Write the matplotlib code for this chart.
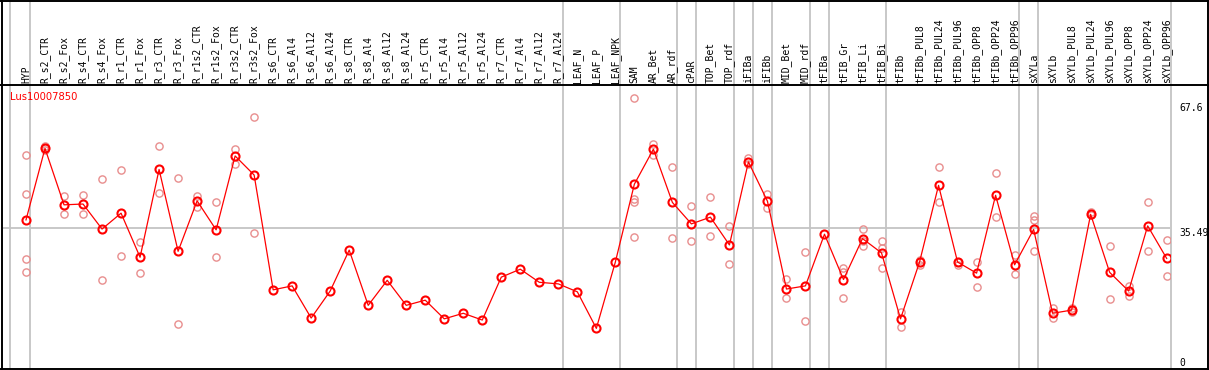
import matplotlib
matplotlib.use("Agg")
import matplotlib.pyplot as plt
from matplotlib.lines import Line2D

categories = ["HYP", "R_s2_CTR", "R_s2_Fox", "R_s4_CTR", "R_s4_Fox", "R_r1_CTR", "R_r1_Fox",
              "R_r3_CTR", "R_r3_Fox", "R_r1s2_CTR", "R_r1s2_Fox", "R_r3s2_CTR", "R_r3s2_Fox",
              "R_s6_CTR", "R_s6_Al4", "R_s6_Al12", "R_s6_Al24", "R_s8_CTR", "R_s8_Al4", "R_s8_Al12",
              "R_s8_Al24", "R_r5_CTR", "R_r5_Al4", "R_r5_Al12", "R_r5_Al24", "R_r7_CTR", "R_r7_Al4",
              "R_r7_Al12", "R_r7_Al24", "LEAF_N", "LEAF_P", "LEAF_NPK", "SAM", "AR_Bet", "AR_rdf",
              "cPAR", "TOP_Bet", "TOP_rdf", "iFIBa", "iFIBb", "MID_Bet", "MID_rdf", "tFIBa",
              "tFIB_Gr", "tFIB_Li", "tFIB_Bi", "tFIBb", "tFIBb_PUL8", "tFIBb_PUL24", "tFIBb_PUL96",
              "tFIBb_OPP8", "tFIBb_OPP24", "tFIBb_OPP96", "sXYLa", "sXYLb", "sXYLb_PUL8",
              "sXYLb_PUL24", "sXYLb_PUL96", "sXYLb_OPP8", "sXYLb_OPP24", "sXYLb_OPP96"]

means = [37.6, 55.6, 41.4, 41.6, 35.3, 39.3, 28.2, 50.3, 29.7, 42.4, 35.1, 53.7, 48.9,
         20.0, 21.0, 12.9, 19.7, 30.0, 16.1, 22.4, 16.1, 17.4, 12.7, 14.1, 12.4, 23.2, 25.2,
         21.9, 21.5, 19.5, 10.3, 27.0, 46.6, 55.4, 42.0, 36.6, 38.3, 31.3, 52.2, 42.3, 20.2,
         21.0, 34.0, 22.6, 32.9, 29.3, 12.7, 27.0, 46.3, 27.0, 24.2, 43.8, 26.3, 35.2, 14.1,
         14.9, 39.0, 24.4, 19.7, 36.1, 27.9]

replicates = [
    [53.9, 44.0, 27.7, 24.4], [56.3, 55.6, 55.2], [43.5, 39.0], [43.9, 39.0], [47.9, 22.6],
    [50.2, 28.5], [32.0, 24.2], [56.2, 44.5], [48.2, 11.3], [43.7, 40.9], [42.0, 28.3],
    [55.4, 51.8], [63.5, 34.3],
    [], [], [], [], [], [], [], [], [], [], [], [], [], [], [], [], [], [], [],
    [68.2, 42.9, 42.2, 33.2], [56.7, 53.9], [50.8, 33.0], [41.1, 32.2], [43.4, 33.6],
    [36.1, 26.5], [53.3, 51.7], [44.1, 40.6], [22.7, 17.9], [29.4, 12.2], [],
    [25.6, 17.9, 24.6], [35.3, 31.1, 32.3], [32.2, 30.5, 25.4], [14.3, 10.7], [27.5, 26.2],
    [50.8, 42.0], [26.9, 26.3], [27.1, 20.8], [49.3, 38.3], [28.8, 24.0],
    [38.7, 37.6, 29.7], [15.4, 12.8], [15.5, 14.3], [39.7, 38.8], [31.0, 17.7],
    [21.0, 18.5], [42.1, 29.7], [32.5, 23.4],
]

group_sizes = [1, 28, 3, 3, 1, 2, 1, 1, 2, 1, 3, 7, 1, 7]

title = "Lus10007850"
axis_labels = ["67.6", "35.49", "0"]
ref_value = 35.49

W, H = 1209, 370
fig = plt.figure(figsize=(W / 100, H / 100), dpi=100)

def fx(px):
    return px / W

def fy(py):
    return (H - py) / H

ax_left, ax_right, ax_top, ax_bot = 1.7, 1170.3, 85.0, 369.3
ax = fig.add_axes([fx(ax_left), fy(ax_bot), fx(ax_right - ax_left), (ax_bot - ax_top) / H])
ax.set_xlim(-1.278, 60.19)
ax.set_ylim(0, 71.56)
ax.set_xticks([])
ax.set_yticks([])
for s in ["left", "top", "bottom", "right"]:
    ax.spines[s].set_visible(False)

x = list(range(len(categories)))
gray = "#c4c4c4"
ax_h_px = ax_bot - ax_top
top_ext = (ax_bot) / ax_h_px  # extend to figure top

# group separators
b = 0
seps = [-0.84]
for g in group_sizes:
    b += g
    seps.append(b - 0.77)
for s in seps:
    ax.axvline(s, ymin=0, ymax=top_ext, color=gray, lw=1.3, clip_on=False, zorder=1)

ax.axhline(ref_value, xmin=0, xmax=1, color=gray, lw=1.3, zorder=1)

# replicate points
rx, ry = [], []
for i, reps in enumerate(replicates):
    for v in reps:
        rx.append(i)
        ry.append(v)
ax.plot(rx, ry, linestyle="none", marker="o", markersize=5.2, markerfacecolor="none",
        markeredgecolor="#e88e8e", markeredgewidth=1.0, zorder=3)

# mean line
ax.plot(x, means, color="#ff0000", lw=0.9, marker="o", markersize=5.8, markerfacecolor="none",
        markeredgecolor="#ff0000", markeredgewidth=1.5, zorder=4)

# column labels
hdr_tr = ax.get_xaxis_transform()
for i, c in enumerate(categories):
    ax.text(i, 1 + 2.0 / ax_h_px, c, rotation=90, ha="center", va="bottom",
            fontsize=7, family="DejaVu Sans Mono", color="black", transform=hdr_tr,
            clip_on=False)

# title
fig.text(fx(10), fy(97), title, color="#ff0000", fontsize=7.2, family="DejaVu Sans",
         ha="left", va="center")

# right labels
for lab, top_px in zip(axis_labels, [103, 228, 358]):
    fig.text(fx(1179), fy(top_px), lab, fontsize=7, family="DejaVu Sans Mono",
             ha="left", va="top", color="black")

# black frame lines
lw_b = 1.4
fig.add_artist(Line2D([0, 1], [fy(ax_top), fy(ax_top)], color="black", lw=lw_b,
                      transform=fig.transFigure))
fig.add_artist(Line2D([0, 1], [fy(ax_bot), fy(ax_bot)], color="black", lw=lw_b,
                      transform=fig.transFigure))
fig.add_artist(Line2D([0, 1], [fy(0.5), fy(0.5)], color="black", lw=lw_b,
                      transform=fig.transFigure))
fig.add_artist(Line2D([fx(ax_left), fx(ax_left)], [0, 1], color="black", lw=lw_b,
                      transform=fig.transFigure))
fig.add_artist(Line2D([fx(1208), fx(1208)], [0, 1], color="black", lw=lw_b,
                      transform=fig.transFigure))

fig.savefig("out.png", dpi=100, facecolor="white")
